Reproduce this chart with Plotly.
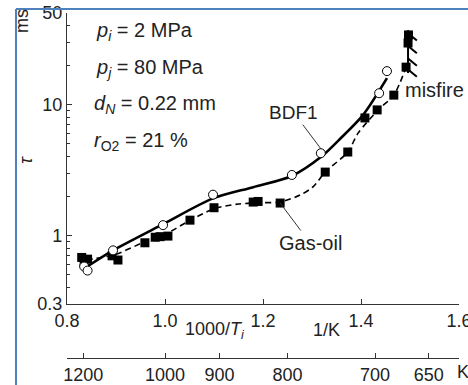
import math
import plotly.graph_objects as go

# ---------------- data ----------------
bdf_x = [0.835, 0.842, 0.894, 0.996, 1.098, 1.259, 1.318, 1.437, 1.453]
bdf_y = [0.58, 0.54, 0.77, 1.20, 2.05, 2.90, 4.25, 12.2, 18.0]

bdf_fit_x = [0.843, 0.894, 0.996, 1.098, 1.180, 1.259, 1.318, 1.360, 1.404, 1.453]
bdf_fit_y = [0.585, 0.77, 1.22, 1.92, 2.34, 2.85, 3.97, 5.6, 8.3, 15.9]

gas_x = [0.830, 0.835, 0.842, 0.892, 0.904, 0.959, 0.980, 0.990, 1.006, 1.051,
         1.100, 1.180, 1.190, 1.235, 1.327, 1.373, 1.408, 1.433, 1.467, 1.492,
         1.496, 1.497]
gas_y = [0.68, 0.62, 0.66, 0.70, 0.65, 0.88, 0.97, 0.98, 0.99, 1.31,
         1.63, 1.80, 1.82, 1.77, 3.05, 4.34, 7.9, 9.1, 11.8, 19.3,
         29.5, 34.0]

gas_fit_x = [0.840, 0.900, 0.960, 1.000, 1.050, 1.100, 1.150, 1.200, 1.235, 1.276,
             1.302, 1.327, 1.373, 1.394, 1.439, 1.467, 1.492]
gas_fit_y = [0.65, 0.72, 0.90, 1.02, 1.30, 1.60, 1.74, 1.78, 1.80, 2.04,
             2.35, 3.05, 4.34, 6.05, 9.4, 11.8, 19.3]

misfire_x = 1.496
misfire_y_range = [17.4, 37.0]
misfire_hatch_y = [35.0, 28.0, 22.5, 18.5]

x_ticks = [0.8, 1.0, 1.2, 1.4, 1.6]
x_ticklabels = ["0.8", "1.0", "1.2", "1.4", "1.6"]
y_ticks = [0.3, 1, 10, 50]
y_ticklabels = ["0.3", "1", "10", "50"]
y_minor = [0.4, 0.5, 0.6, 0.7, 0.8, 0.9, 2, 3, 4, 5, 6, 7, 8, 9, 20, 30, 40]
temp_ticks_K = [1200, 1000, 900, 800, 700, 650]

# ---------------- geometry helpers ----------------
W, H = 468, 385
ML, MR, MT, MB = 67, 9, 13, 27
PW = W - ML - MR
PH = H - MT - MB
PLOT_BOTTOM = 304


def px(x):
    return (x - ML) / PW


def py(y):
    return (H - MB - y) / PH


FONT = "Liberation Sans, Arial, sans-serif"
fs = 18
TXT = "#222"

fig = go.Figure()

# fitted lines
fig.add_trace(go.Scatter(x=bdf_fit_x, y=bdf_fit_y, mode="lines",
                         line=dict(color="black", width=2.6, shape="spline", smoothing=0.8),
                         hoverinfo="skip", showlegend=False))
fig.add_trace(go.Scatter(x=gas_fit_x, y=gas_fit_y, mode="lines",
                         line=dict(color="black", width=1.6, dash="6px,4px", shape="spline", smoothing=0.8),
                         hoverinfo="skip", showlegend=False))

# misfire marks
hx, hy = [misfire_x, misfire_x], list(misfire_y_range)
for v in misfire_hatch_y:
    hx += [None, misfire_x, misfire_x + 0.018]
    hy += [None, v, v * 0.88]
fig.add_trace(go.Scatter(x=hx, y=hy, mode="lines", line=dict(color="black", width=2),
                         hoverinfo="skip", showlegend=False))

# markers
fig.add_trace(go.Scatter(x=gas_x, y=gas_y, mode="markers",
                         marker=dict(symbol="square", size=9, color="black"),
                         showlegend=False))
fig.add_trace(go.Scatter(x=bdf_x, y=bdf_y, mode="markers",
                         marker=dict(symbol="circle", size=9, color="white",
                                     line=dict(color="black", width=1)),
                         showlegend=False))

# secondary temperature axis (dummy trace)
fig.add_trace(go.Scatter(x=[None], y=[None], xaxis="x2", showlegend=False))

axis_font = dict(family=FONT, size=fs, color=TXT)
common = dict(showline=True, linecolor="#333", linewidth=1.3, showgrid=False,
              zeroline=False, automargin=False, tickfont=axis_font,
              ticklabeloverflow="allow", ticks="inside", ticklen=5, tickcolor="#333")

fig.update_layout(
    template="none",
    width=W, height=H,
    margin=dict(l=ML, r=MR, t=MT, b=MB, pad=0, autoexpand=False),
    paper_bgcolor="white", plot_bgcolor="white",
    font=axis_font,
    xaxis=dict(range=[0.8, 1.6], tickvals=x_ticks, ticktext=x_ticklabels,
               anchor="y", **common),
    xaxis2=dict(range=[0.8, 1.6], overlaying="x", anchor="free", position=0,
                side="bottom",
                tickvals=[1000.0 / t for t in temp_ticks_K],
                ticktext=[str(t) for t in temp_ticks_K], **common),
    yaxis=dict(type="log", range=[math.log10(0.3), math.log10(50)],
               domain=[(H - MB - PLOT_BOTTOM) / PH, 1],
               tickvals=y_ticks, ticktext=y_ticklabels,
               minor=dict(tickvals=y_minor, ticks="inside", ticklen=3, tickcolor="#333"),
               **common),
)

ann = []


def add_text(text, x, y, xanchor="left", angle=0, size=fs):
    ann.append(dict(text=text, x=px(x), y=py(y), xref="paper", yref="paper",
                    xanchor=xanchor, yanchor="middle", showarrow=False,
                    textangle=angle, font=dict(family=FONT, size=size, color=TXT)))


add_text("<i>p</i><sub><i>i</i></sub> = 2 MPa", 94, 32, size=20)
add_text("<i>p</i><sub><i>j</i></sub> = 80 MPa", 94, 68, size=20)
add_text("<i>d</i><sub><i>N</i></sub> = 0.22 mm", 92, 104, size=20)
add_text("<i>r</i><sub>O2</sub> = 21 %", 92, 142, size=20)
add_text("misfire", 403, 90, size=20)
add_text("1000/<i>T</i><sub><i>i</i></sub>", 183, 330)
add_text("1/K", 311, 330)
add_text("K", 455, 372)
add_text("<i>τ</i>", 26, 160, xanchor="center", angle=-90)
add_text("ms", 22, 21, xanchor="center", angle=-90)

# leader-line labels
ann.append(dict(text="BDF1", x=1.318, y=math.log10(4.6), xref="x", yref="y",
                showarrow=True, arrowhead=0, arrowwidth=1, arrowcolor="#333",
                ax=-27, ay=-36, font=dict(family=FONT, size=19, color=TXT)))
ann.append(dict(text="Gas-oil", x=1.235, y=math.log10(1.77), xref="x", yref="y",
                showarrow=True, arrowhead=0, arrowwidth=1, arrowcolor="#333",
                ax=30, ay=40, font=dict(family=FONT, size=20, color=TXT)))

fig.update_layout(annotations=ann)

# blue picture frame (left and top)
frame = "#4f81bd"
fig.update_layout(shapes=[
    dict(type="line", xref="paper", yref="paper", x0=px(16), x1=px(16),
         y0=py(385), y1=py(9), line=dict(color=frame, width=2)),
    dict(type="line", xref="paper", yref="paper", x0=px(16), x1=px(470),
         y0=py(9), y1=py(9), line=dict(color=frame, width=2)),
])

fig.write_html("out.html", config={"displayModeBar": False},
               post_script="document.body.style.margin='0px';document.body.style.overflow='hidden';")
